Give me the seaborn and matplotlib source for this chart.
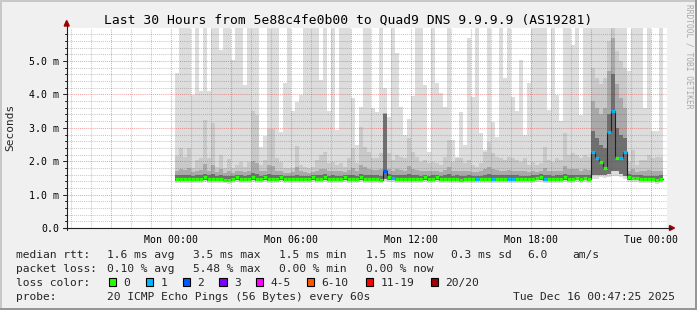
import numpy as np
import pandas as pd
import matplotlib
matplotlib.use("Agg")
import matplotlib.pyplot as plt
import matplotlib.dates as mdates
from matplotlib.patches import Rectangle, Polygon
from matplotlib.lines import Line2D
import seaborn as sns

# ---------------- data ----------------
TITLE = "Last 30 Hours from 5e88c4fe0b00 to Quad9 DNS 9.9.9.9 (AS19281)"
graph_end = "2025-12-16 00:47:25"
window_hours = 30
first_column = "2025-12-15 00:12"
column_minutes = 12

# values in milliseconds, one per 12-minute column
ping_max = [
    4.65, 6.5, 6.5, 6.5, 3.98, 6.5, 4.11, 6.5, 4.11, 6.5,
    6.5, 5.33, 6.5, 6.5, 5.03, 6.5, 6.5, 4.28, 6.5, 6.5,
    6.5, 2.43, 2.76, 6.5, 6.5, 6.5, 2.88, 4.33, 6.5, 3.50,
    3.78, 3.98, 6.5, 6.5, 6.5, 6.5, 4.43, 6.5, 3.50, 6.5,
    2.93, 6.5, 6.5, 6.5, 3.90, 2.49, 3.63, 6.5, 6.5, 3.60,
    3.46, 6.5, 4.18, 3.33, 6.5, 5.23, 3.63, 2.80, 3.28, 3.96,
    6.5, 6.5, 4.28, 2.27, 6.5, 4.33, 4.03, 3.63, 6.5, 2.63,
    2.14, 3.48, 2.50, 5.70, 3.93, 6.5, 2.84, 2.34, 6.5, 3.18,
    2.73, 6.5, 4.50, 6.5, 3.93, 3.50, 5.03, 2.80, 4.33, 6.5,
    6.5, 6.5, 6.5, 3.54, 6.5, 3.98, 3.20, 6.5, 6.5, 5.48,
    6.5, 3.38, 6.5, 6.5, 6.5, 6.5, 6.5, 6.5, 6.5, 6.5,
    6.5, 6.5, 6.5, 4.70, 6.5, 6.5, 6.5, 3.58, 6.5, 2.90,
    2.90, 6.5,
]
ping_p19 = [
    2.16, 2.41, 2.14, 2.41, 1.79, 2.04, 2.09, 3.23, 2.09, 3.15,
    1.84, 2.19, 1.79, 2.07, 1.79, 1.89, 1.99, 1.84, 1.99, 3.50,
    3.38, 1.89, 2.04, 2.98, 2.98, 2.09, 1.99, 1.79, 1.79, 1.79,
    2.47, 1.89, 1.84, 1.79, 1.84, 2.04, 2.19, 2.29, 1.94, 1.99,
    1.89, 1.94, 1.84, 2.09, 2.39, 1.94, 3.03, 2.44, 2.29, 2.09,
    2.09, 2.24, 3.45, 2.24, 2.04, 2.19, 2.14, 2.09, 2.71, 2.29,
    2.14, 1.99, 2.04, 1.94, 1.99, 1.94, 1.89, 2.14, 2.64, 1.99,
    2.09, 2.09, 1.94, 2.04, 1.89, 1.84, 1.94, 2.29, 2.57, 2.24,
    2.14, 2.09, 2.04, 2.14, 2.09, 2.04, 1.99, 2.09, 1.89, 1.99,
    1.89, 1.94, 2.44, 2.04, 1.99, 2.09, 2.04, 2.84, 2.19, 2.24,
    2.19, 2.09, 2.19, 2.14, 4.80, 4.50, 4.30, 4.50, 5.60, 6.50,
    5.30, 5.00, 4.80, 1.99, 2.34, 1.89, 2.04, 2.04, 2.19, 2.09,
    2.14, 2.14,
]
ping_p16 = [
    1.72, 1.78, 1.74, 1.80, 1.68, 1.72, 1.74, 1.92, 1.72, 1.90,
    1.68, 1.76, 1.66, 1.72, 1.66, 1.70, 1.72, 1.68, 1.72, 2.00,
    1.95, 1.70, 1.72, 1.88, 1.86, 1.72, 1.70, 1.66, 1.66, 1.68,
    1.84, 1.70, 1.68, 1.66, 1.68, 1.72, 1.76, 1.78, 1.70, 1.72,
    1.70, 1.70, 1.68, 1.74, 1.80, 1.70, 1.90, 1.82, 1.78, 1.74,
    1.74, 1.76, 3.45, 1.78, 1.72, 1.76, 1.74, 1.72, 1.86, 1.78,
    1.74, 1.70, 1.72, 1.70, 1.72, 1.70, 1.68, 1.74, 1.84, 1.70,
    1.72, 1.72, 1.70, 1.72, 1.68, 1.68, 1.70, 1.78, 1.84, 1.76,
    1.74, 1.72, 1.72, 1.74, 1.72, 1.72, 1.70, 1.72, 1.68, 1.70,
    1.68, 1.72, 1.80, 1.72, 1.70, 1.72, 1.72, 1.86, 1.76, 1.78,
    1.76, 1.72, 1.76, 1.74, 3.80, 3.60, 3.40, 3.60, 4.70, 5.70,
    4.30, 3.90, 3.60, 1.72, 1.78, 1.68, 1.72, 1.70, 1.74, 1.70,
    1.72, 1.72,
]
ping_p13 = [
    1.58, 1.60, 1.58, 1.60, 1.56, 1.58, 1.58, 1.63, 1.58, 1.62,
    1.56, 1.59, 1.55, 1.57, 1.56, 1.60, 1.58, 1.57, 1.58, 1.64,
    1.62, 1.57, 1.60, 1.61, 1.60, 1.58, 1.60, 1.56, 1.56, 1.57,
    1.60, 1.57, 1.57, 1.56, 1.60, 1.58, 1.59, 1.61, 1.57, 1.58,
    1.57, 1.57, 1.60, 1.58, 1.60, 1.57, 1.62, 1.59, 1.59, 1.58,
    1.58, 1.57, 3.42, 1.61, 1.59, 1.58, 1.58, 1.58, 1.61, 1.59,
    1.58, 1.57, 1.60, 1.57, 1.58, 1.60, 1.57, 1.58, 1.61, 1.57,
    1.58, 1.56, 1.57, 1.58, 1.57, 1.57, 1.57, 1.59, 1.61, 1.59,
    1.58, 1.58, 1.58, 1.59, 1.58, 1.58, 1.57, 1.57, 1.57, 1.58,
    1.59, 1.61, 1.60, 1.58, 1.57, 1.58, 1.58, 1.62, 1.59, 1.59,
    1.60, 1.58, 1.60, 1.58, 2.90, 2.70, 2.50, 2.40, 3.40, 4.60,
    3.00, 2.80, 2.70, 1.61, 1.60, 1.59, 1.58, 1.57, 1.57, 1.57,
    1.55, 1.58,
]
median_rtt = [
    1.48, 1.48, 1.48, 1.48, 1.48, 1.48, 1.48, 1.53, 1.48, 1.48,
    1.48, 1.48, 1.44, 1.44, 1.48, 1.53, 1.48, 1.48, 1.48, 1.53,
    1.46, 1.46, 1.53, 1.48, 1.48, 1.48, 1.53, 1.48, 1.48, 1.48,
    1.48, 1.48, 1.48, 1.48, 1.53, 1.48, 1.48, 1.53, 1.46, 1.48,
    1.48, 1.48, 1.53, 1.48, 1.48, 1.48, 1.53, 1.46, 1.48, 1.48,
    1.48, 1.44, 1.72, 1.53, 1.51, 1.46, 1.46, 1.48, 1.48, 1.46,
    1.48, 1.48, 1.53, 1.46, 1.48, 1.53, 1.46, 1.48, 1.48, 1.48,
    1.48, 1.44, 1.48, 1.48, 1.48, 1.48, 1.48, 1.48, 1.48, 1.48,
    1.48, 1.48, 1.48, 1.48, 1.48, 1.48, 1.48, 1.46, 1.48, 1.48,
    1.50, 1.53, 1.48, 1.48, 1.48, 1.48, 1.48, 1.53, 1.48, 1.48,
    1.50, 1.48, 1.50, 1.48, 2.28, 2.09, 1.99, 1.81, 2.88, 3.50,
    2.10, 2.10, 2.28, 1.53, 1.50, 1.50, 1.48, 1.46, 1.46, 1.46,
    1.43, 1.48,
]
ping_low = [
    1.42, 1.42, 1.42, 1.42, 1.42, 1.42, 1.42, 1.45, 1.42, 1.42,
    1.42, 1.42, 1.40, 1.40, 1.42, 1.45, 1.42, 1.42, 1.42, 1.45,
    1.41, 1.41, 1.45, 1.42, 1.42, 1.42, 1.45, 1.42, 1.42, 1.42,
    1.42, 1.42, 1.42, 1.42, 1.45, 1.42, 1.42, 1.45, 1.41, 1.42,
    1.42, 1.42, 1.45, 1.42, 1.42, 1.42, 1.45, 1.41, 1.42, 1.42,
    1.42, 1.40, 1.48, 1.45, 1.44, 1.41, 1.41, 1.42, 1.42, 1.41,
    1.42, 1.42, 1.45, 1.41, 1.42, 1.45, 1.41, 1.42, 1.42, 1.42,
    1.42, 1.40, 1.42, 1.42, 1.42, 1.42, 1.42, 1.42, 1.42, 1.42,
    1.42, 1.42, 1.42, 1.42, 1.42, 1.42, 1.42, 1.41, 1.42, 1.42,
    1.43, 1.45, 1.42, 1.42, 1.42, 1.42, 1.42, 1.45, 1.42, 1.42,
    1.43, 1.42, 1.43, 1.42, 1.58, 1.58, 1.60, 1.58, 1.62, 1.70,
    1.70, 1.62, 1.55, 1.45, 1.43, 1.43, 1.42, 1.41, 1.41, 1.41,
    1.39, 1.42,
]
ping_min = [
    1.36, 1.35, 1.36, 1.34, 1.36, 1.36, 1.35, 1.37, 1.36, 1.35,
    1.36, 1.36, 1.34, 1.33, 1.36, 1.37, 1.36, 1.35, 1.36, 1.37,
    1.35, 1.35, 1.37, 1.36, 1.35, 1.36, 1.37, 1.36, 1.36, 1.35,
    1.36, 1.36, 1.35, 1.36, 1.37, 1.36, 1.36, 1.37, 1.35, 1.36,
    1.36, 1.35, 1.37, 1.36, 1.36, 1.35, 1.37, 1.35, 1.36, 1.36,
    1.36, 1.34, 1.42, 1.37, 1.37, 1.35, 1.35, 1.36, 1.36, 1.35,
    1.36, 1.36, 1.37, 1.35, 1.36, 1.37, 1.35, 1.36, 1.36, 1.36,
    1.36, 1.34, 1.36, 1.36, 1.36, 1.36, 1.36, 1.36, 1.36, 1.36,
    1.36, 1.36, 1.36, 1.36, 1.36, 1.36, 1.36, 1.35, 1.36, 1.36,
    1.37, 1.37, 1.36, 1.36, 1.36, 1.36, 1.36, 1.37, 1.36, 1.36,
    1.37, 1.36, 1.37, 1.36, 1.48, 1.48, 1.52, 1.50, 1.52, 1.56,
    1.56, 1.52, 1.46, 1.37, 1.37, 1.37, 1.36, 1.35, 1.35, 1.34,
    1.32, 1.35,
]
loss_count = [0] * 122
for _k in (54, 75, 79, 83, 84, 92, 104, 105, 108, 109, 111, 112):
    loss_count[_k] = 1
loss_count[52] = 2

y_ticks = [0, 1, 2, 3, 4, 5]
y_tick_labels = ["0.0", "1.0 m", "2.0 m", "3.0 m", "4.0 m", "5.0 m"]
loss_labels = ["0", "1", "2", "3", "4-5", "6-10", "11-19", "20/20"]
loss_colors = ["#26ff00", "#00b8ff", "#0059ff", "#7e00ff",
               "#ff00ff", "#ff5500", "#ff0000", "#a10000"]
loss_bins = [0, 1, 2, 3, 5, 10, 19, 20]   # upper bound of each loss class

stats_rtt = ["1.6 ms avg", "3.5 ms max", "1.5 ms min", "1.5 ms now", "0.3 ms sd", "6.0", "am/s"]
stats_loss = ["0.10 % avg", "5.48 % max", "0.00 % min", "0.00 % now"]
probe_text = "20 ICMP Echo Pings (56 Bytes) every 60s"
stamp_text = "Tue Dec 16 00:47:25 2025"

# ---------------- style ----------------
sns.set_style("white")
plt.rcParams["font.family"] = ["DejaVu Sans Mono", "DejaVu Sans"]
MONO = ["DejaVu Sans Mono", "DejaVu Sans"]

W, H = 697, 310
fig = plt.figure(figsize=(W / 100, H / 100), dpi=100, facecolor="#f0f0f0")


def fx(x):
    return x / W


def fy(y):
    return 1 - y / H


AX_L, AX_R, AX_T, AX_B = 66.7, 666.7, 27.7, 228.0
ax = fig.add_axes([fx(AX_L), fy(AX_B), (AX_R - AX_L) / W, (AX_B - AX_T) / H])
ax.set_facecolor("white")

t_end = mdates.date2num(pd.Timestamp(graph_end))
t_start = t_end - window_hours / 24.0
n = len(median_rtt)
edges = mdates.date2num(pd.date_range(first_column, periods=n + 1,
                                      freq=f"{column_minutes}min"))


def ext(v):
    v = list(v)
    return np.array(v + [v[-1]])


# smoke layers
layers = [
    (ping_min, ping_max, "#dddddd"),
    (ping_low, ping_p19, "#c9c9c9"),
    (ping_low, ping_p16, "#a9a9a9"),
    (ping_low, ping_p13, "#707070"),
]
for lo, hi, col in layers:
    ax.fill_between(edges, ext(lo), ext(hi), step="post", color=col,
                    linewidth=0, zorder=1)

# grid (drawn above the smoke like rrdtool)
minor_c = (0.35, 0.35, 0.35, 0.32)
major_c = (0.85, 0.08, 0.08, 0.38)
dot = (0, (1, 1))
hours = pd.date_range(pd.Timestamp(mdates.num2date(t_start)).tz_localize(None).ceil("h"),
                      pd.Timestamp(mdates.num2date(t_end)).tz_localize(None), freq="1h")
for h in hours:
    c = major_c if h.hour % 3 == 0 else minor_c
    ax.axvline(mdates.date2num(h), color=c, lw=0.75, ls=dot, zorder=2)
for yv in np.arange(0.2, 6.0, 0.2):
    c = major_c if abs(yv - round(yv)) < 1e-6 else minor_c
    ax.axhline(yv, color=c, lw=0.75, ls=dot, zorder=2)

# median line
sns.lineplot(x=edges, y=ext(median_rtt), drawstyle="steps-post", color="#202020",
             lw=0.8, ax=ax, zorder=4, legend=False)
seg_colors = [loss_colors[int(np.searchsorted(loss_bins, lc))] for lc in loss_count]
ax.hlines(median_rtt, edges[:-1], edges[1:], colors=seg_colors, lw=2.3, zorder=5)

ax.set_xlim(t_start, t_end)
ax.set_ylim(0, 6.0)
for s in ax.spines.values():
    s.set_visible(False)

ax.xaxis.set_major_locator(mdates.HourLocator(byhour=[0, 6, 12, 18]))
ax.xaxis.set_major_formatter(mdates.DateFormatter("%a %H:%M"))
ax.set_yticks(y_ticks)
ax.set_yticklabels(y_tick_labels)
ax.tick_params(axis="x", length=0, pad=5.0, labelsize=7.1, colors="#000000")
ax.tick_params(axis="y", length=0, pad=5.2, labelsize=7.1, colors="#000000")
ax.set_xlabel("")
ax.set_ylabel("")

# axis lines & arrows
axis_c = "#202020"
fig.add_artist(Line2D([fx(AX_L), fx(AX_L)], [fy(230), fy(24)], color=axis_c, lw=0.8))
fig.add_artist(Line2D([fx(63), fx(671)], [fy(AX_B), fy(AX_B)], color=axis_c, lw=0.8))
arrow_c = "#a00000"
fig.add_artist(Polygon([[fx(66.7), fy(20.5)], [fx(64.2), fy(26)], [fx(69.2), fy(26)]],
                       closed=True, color=arrow_c, transform=fig.transFigure))
fig.add_artist(Polygon([[fx(674.5), fy(228)], [fx(669.5), fy(225.5)], [fx(669.5), fy(230.5)]],
                       closed=True, color=arrow_c, transform=fig.transFigure))
# small ticks on axes
for yv in np.arange(0, 6.0, 0.2):
    py = AX_B - yv * (AX_B - AX_T) / 6.0
    L = 4 if abs(yv - round(yv)) < 1e-6 else 2
    fig.add_artist(Line2D([fx(AX_L - L), fx(AX_L)], [fy(py), fy(py)], color=axis_c, lw=0.7))

# texts
fig.text(fx(348), fy(24), TITLE, ha="center", va="baseline", fontsize=9.4,
         family=MONO, color="black")
fig.text(fx(10), fy(127), "Seconds", rotation=90, ha="center", va="center",
         fontsize=8.0, family=MONO)
fig.text(fx(688.5), fy(4), "RRDTOOL / TOBI OETIKER", rotation=270, ha="center",
         va="top", fontsize=5.7, family=MONO, color="#a8a8a8")

LS = 8.1
base = [258.3, 272.3, 286.3, 300.3]
fig.text(fx(16), fy(base[0]), "median rtt:", fontsize=LS, family=MONO, va="baseline")
for xp, t in zip([107, 193, 279, 366, 451, 527, 572], stats_rtt):
    fig.text(fx(xp), fy(base[0]), t, fontsize=LS, family=MONO, va="baseline")
fig.text(fx(16), fy(base[1]), "packet loss:", fontsize=LS, family=MONO, va="baseline")
for xp, t in zip([107, 193, 279, 366], stats_loss):
    fig.text(fx(xp), fy(base[1]), t, fontsize=LS, family=MONO, va="baseline")
fig.text(fx(16), fy(base[2]), "loss color:", fontsize=LS, family=MONO, va="baseline")
box_x = [108.7, 145.7, 182.7, 219.3, 256, 307, 366, 431]
for bx, lab, col in zip(box_x, loss_labels, loss_colors):
    fig.add_artist(Rectangle((fx(bx), fy(285.5)), 7.2 / W, 7.5 / H,
                             transform=fig.transFigure, facecolor=col,
                             edgecolor="black", lw=0.8))
    fig.text(fx(bx + 14.5), fy(base[2]), lab, fontsize=LS, family=MONO, va="baseline")
fig.text(fx(16), fy(base[3]), "probe:", fontsize=LS, family=MONO, va="baseline")
fig.text(fx(107), fy(base[3]), probe_text, fontsize=LS, family=MONO, va="baseline")
fig.text(fx(513), fy(base[3]), stamp_text, fontsize=LS, family=MONO, va="baseline")

# 3D frame
fig.add_artist(Line2D([0, 1], [fy(0.75), fy(0.75)], color="#c8c8c8", lw=1.44))
fig.add_artist(Line2D([fx(0.75), fx(0.75)], [0, 1], color="#c8c8c8", lw=1.44))
fig.add_artist(Line2D([0, 1], [fy(309), fy(309)], color="#969696", lw=1.44))
fig.add_artist(Line2D([fx(696), fx(696)], [0, 1], color="#969696", lw=1.44))

fig.savefig("out.png", dpi=100, facecolor=fig.get_facecolor())
